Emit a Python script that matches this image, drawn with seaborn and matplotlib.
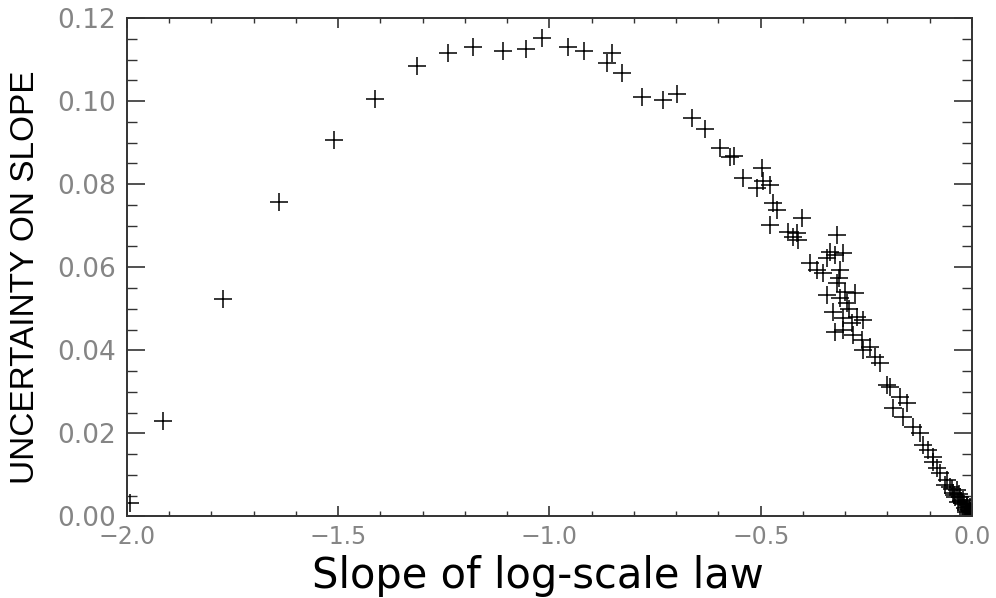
import matplotlib
matplotlib.use("Agg")
import matplotlib.pyplot as plt
import seaborn as sns
import numpy as np
import pandas as pd
from matplotlib.ticker import MultipleLocator, FuncFormatter

slope = [
    -1.915, -1.773, -1.640, -1.510, -1.413, -1.314, -1.240, -1.181, -1.110, -1.056,
    -1.018, -0.956, -0.918, -0.852, -0.864, -0.828, -0.781, -0.731, -0.698, -0.663,
    -0.632, -0.596, -0.573, -0.563, -0.542, -0.497, -0.509, -0.478, -0.495, -0.471,
    -0.462, -0.478, -0.402, -0.436, -0.414, -0.412, -0.424, -0.320, -0.336, -0.324,
    -0.305, -0.343, -0.383, -0.367, -0.312, -0.353, -0.320, -0.343, -0.277, -0.312,
    -0.296, -0.329, -0.272, -0.305, -0.258, -0.305, -0.324, -0.282, -0.260, -0.241,
    -0.258, -0.230, -0.218, -0.201, -0.194, -0.170, -0.154, -0.187, -0.163, -0.140,
    -0.123, -0.116, -0.104, -0.092, -0.092, -0.083, -0.076, -0.064, -0.059, -0.052,
    -0.045, -0.036, -0.040, -0.028, -0.024, -0.021, -0.033, -0.017, -0.012, -0.014,
    -0.007, -0.005, -0.002, -0.009, -1.993,
    -0.048, -0.043, -0.031, -0.026, -0.019, -0.015, -0.010, -0.004, -0.003, -0.011,
    -0.300, -0.290, -0.315, -0.285,
]
uncertainty = [
    0.0230, 0.0524, 0.0757, 0.0906, 0.1005, 0.1085, 0.1116, 0.1130, 0.1121, 0.1125,
    0.1152, 0.1130, 0.1121, 0.1116, 0.1092, 0.1068, 0.1010, 0.1003, 0.1017, 0.0959,
    0.0933, 0.0887, 0.0865, 0.0868, 0.0815, 0.0839, 0.0791, 0.0798, 0.0808, 0.0755,
    0.0738, 0.0702, 0.0719, 0.0685, 0.0682, 0.0666, 0.0673, 0.0678, 0.0637, 0.0630,
    0.0634, 0.0622, 0.0610, 0.0593, 0.0593, 0.0586, 0.0562, 0.0533, 0.0538, 0.0526,
    0.0514, 0.0492, 0.0480, 0.0478, 0.0473, 0.0449, 0.0444, 0.0437, 0.0425, 0.0408,
    0.0401, 0.0384, 0.0370, 0.0317, 0.0312, 0.0288, 0.0273, 0.0261, 0.0240, 0.0215,
    0.0201, 0.0172, 0.0160, 0.0131, 0.0143, 0.0117, 0.0105, 0.0076, 0.0088, 0.0071,
    0.0057, 0.0064, 0.0047, 0.0047, 0.0032, 0.0040, 0.0035, 0.0020, 0.0028, 0.0016,
    0.0016, 0.0023, 0.0008, 0.0006, 0.0032,
    0.0066, 0.0052, 0.0055, 0.0038, 0.0030, 0.0011, 0.0010, 0.0014, 0.0004, 0.0024,
    0.0540, 0.0500, 0.0575, 0.0465,
]

x_ticks = [-2.0, -1.5, -1.0, -0.5, 0.0]
y_ticks = [0.00, 0.02, 0.04, 0.06, 0.08, 0.10, 0.12]
x_title = "Slope of log-scale law"
y_title = "UNCERTAINTY ON SLOPE"

sns.set_style("ticks")
plt.rcParams['font.family'] = ['Liberation Sans', 'DejaVu Sans']

df = pd.DataFrame({"slope": slope, "unc": uncertainty})

fig = plt.figure(figsize=(9.96, 5.98), dpi=100)
ax = fig.add_axes([0.1275, 0.1363, 0.9759 - 0.1275, 0.9699 - 0.1363])

sns.scatterplot(data=df, x="slope", y="unc", marker="+", s=175,
                color="black", linewidth=1.1, ax=ax, legend=False)

ax.set_xlim(-2.0, 0.0)
ax.set_ylim(0.0, 0.12)
ax.set_xticks(x_ticks)
ax.set_yticks(y_ticks)
ax.xaxis.set_minor_locator(MultipleLocator(0.1))
ax.yaxis.set_minor_locator(MultipleLocator(0.005))


def fmt_x(v, pos):
    s = "%.1f" % abs(v)
    return ("\u2212" + s) if v < -1e-9 else s


ax.xaxis.set_major_formatter(FuncFormatter(fmt_x))
ax.yaxis.set_major_formatter(FuncFormatter(lambda v, p: "%.2f" % v))

spine_col = "#333333"
for sp in ax.spines.values():
    sp.set_visible(True)
    sp.set_linewidth(1.4)
    sp.set_color(spine_col)

ax.tick_params(axis='both', which='both', direction='in', top=True, right=True,
               color=spine_col, labelcolor="#858585")
ax.tick_params(axis='x', which='major', length=7, width=1.2, pad=6, labelsize=17)
ax.tick_params(axis='x', which='minor', length=3.6, width=1.0)
ax.tick_params(axis='y', which='major', length=13, width=1.2, pad=8, labelsize=19)
ax.tick_params(axis='y', which='minor', length=7, width=1.0)
for lab in ax.get_xticklabels() + ax.get_yticklabels():
    lab.set_fontfamily('DejaVu Sans')

ax.set_xlabel("")
ax.set_ylabel("")
fig.text(537.5 / 996, 1 - 588 / 598, x_title, fontsize=30, color="black",
         family="DejaVu Sans", ha="center", va="baseline")
fig.text(25.5 / 996, 1 - 277.5 / 598, y_title, fontsize=24, color="black",
         family="Liberation Sans", ha="center", va="center", rotation=90)

fig.savefig("out.png", dpi=100)
